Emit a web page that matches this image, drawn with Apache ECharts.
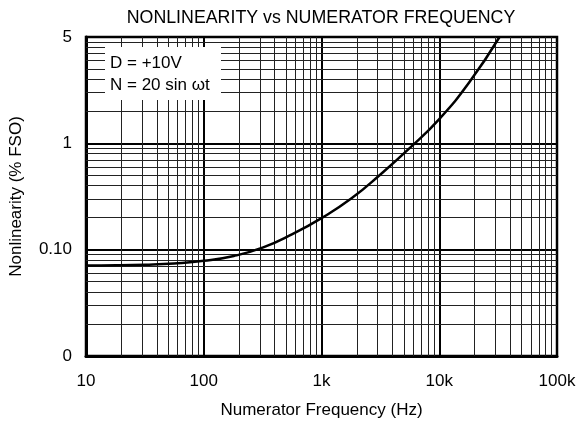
<!DOCTYPE html>
<html>
<head>
<meta charset="utf-8">
<script src="https://cdn.jsdelivr.net/npm/echarts@6/dist/echarts.min.js"></script>
<style>
html,body{margin:0;padding:0;background:#fff;}
#chart{width:582px;height:426px;}
</style>
</head>
<body>
<div id="chart"></div>
<script>
// ---- data ----
var frequencyHz = [10, 18, 32, 56, 100, 180, 320, 560, 1000, 1800, 3200, 5600, 10000, 18000, 32500];
var nonlinearity = [0.071, 0.0713, 0.0723, 0.0743, 0.0785, 0.0872, 0.105, 0.139, 0.198, 0.304, 0.515, 0.90, 1.69, 3.75, 10];
var xTickValues = [10, 100, 1000, 10000, 100000];
var xTickLabels = ['10', '100', '1k', '10k', '100k'];
var yTickValues = [0.01, 0.1, 1, 10];
var yTickLabels = ['0', '0.10', '1', '5'];
var xDecades = [10, 100, 1000, 10000];
var yDecades = [0.01, 0.1, 1];
var minorSteps = [2, 3, 4, 5, 6, 7, 8, 9];
var titleText = 'NONLINEARITY vs NUMERATOR FREQUENCY';
var xName = 'Numerator Frequency (Hz)';
var yName = 'Nonlinearity (% FSO)';
var noteLines = ['D = +10V', 'N = 20 sin \u03c9t'];

var FONT = 'Liberation Sans, Arial, Helvetica, sans-serif';

var points = frequencyHz.map(function (f, i) { return [f, nonlinearity[i]]; });

var minorLines = [];
xDecades.forEach(function (d) {
  minorSteps.forEach(function (m) { minorLines.push({ xAxis: d * m }); });
});
yDecades.forEach(function (d) {
  minorSteps.forEach(function (m) { minorLines.push({ yAxis: d * m }); });
});

function lookup(vals, labels, v) {
  for (var i = 0; i < vals.length; i++) {
    if (Math.abs(Math.log10(v) - Math.log10(vals[i])) < 1e-6) return labels[i];
  }
  return '';
}

var chart = echarts.init(document.getElementById('chart'), null, { renderer: 'canvas' });
chart.setOption({
  animation: false,
  backgroundColor: '#fff',
  title: {
    text: titleText,
    left: 316,
    top: 4,
    textAlign: 'center',
    textStyle: { fontFamily: FONT, fontSize: 17.8, fontWeight: 'normal', color: '#000' }
  },
  grid: {
    left: 86, right: 25, top: 37, bottom: 70,
    show: true, borderColor: '#000', borderWidth: 2.5, backgroundColor: 'transparent'
  },
  xAxis: {
    type: 'log', logBase: 10, min: 10, max: 100000,
    name: xName, nameLocation: 'middle', nameGap: 46,
    nameTextStyle: { fontFamily: FONT, fontSize: 17, color: '#000' },
    axisLine: { show: true, onZero: false, lineStyle: { color: '#000', width: 3 } },
    axisTick: { show: false },
    axisLabel: {
      margin: 17, fontFamily: FONT, fontSize: 17, color: '#000',
      formatter: function (v) { return lookup(xTickValues, xTickLabels, v); }
    },
    splitLine: { show: true, lineStyle: { color: '#000', width: 2 } },
    minorTick: { show: false }, minorSplitLine: { show: false }
  },
  yAxis: {
    type: 'log', logBase: 10, min: 0.01, max: 10,
    name: yName, nameLocation: 'middle', nameGap: 61, nameRotate: 90,
    nameTextStyle: { fontFamily: FONT, fontSize: 17, color: '#000' },
    axisLine: { show: true, onZero: false, lineStyle: { color: '#000', width: 3 } },
    axisTick: { show: false },
    axisLabel: {
      margin: 14, fontFamily: FONT, fontSize: 17, color: '#000',
      formatter: function (v) { return lookup(yTickValues, yTickLabels, v); }
    },
    splitLine: { show: true, lineStyle: { color: '#000', width: 2 } },
    minorTick: { show: false }, minorSplitLine: { show: false }
  },
  graphic: [
    { type: 'rect', left: 105, top: 47, z: 200,
      shape: { width: 116, height: 53 }, style: { fill: '#fff' } },
    { type: 'text', left: 110, top: 55, z: 201,
      style: { text: noteLines[0], font: '17px ' + FONT, fill: '#000' } },
    { type: 'text', left: 110, top: 77, z: 201,
      style: { text: noteLines[1], font: '17px ' + FONT, fill: '#000' } }
  ],
  series: [{
    type: 'line',
    data: points,
    smooth: 0.5,
    showSymbol: false,
    symbol: 'none',
    lineStyle: { color: '#000', width: 2.5 },
    z: 5,
    markLine: {
      silent: true,
      symbol: ['none', 'none'],
      label: { show: false },
      animation: false,
      lineStyle: { color: '#222', width: 1, type: 'solid' },
      emphasis: { disabled: true },
      data: minorLines
    }
  }]
});
</script>
</body>
</html>
